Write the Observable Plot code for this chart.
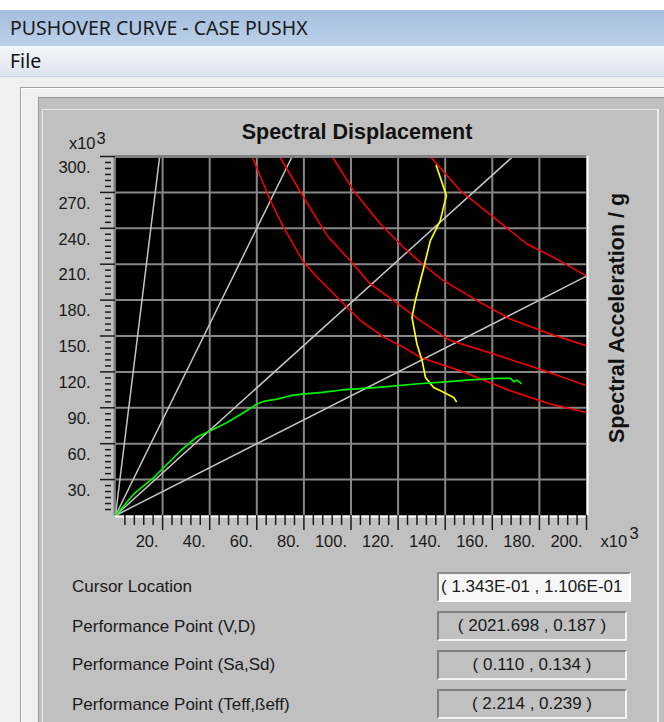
<!DOCTYPE html>
<html>
<head>
<meta charset="utf-8">
<script src="https://cdn.jsdelivr.net/npm/d3@7"></script>
<script src="https://cdn.jsdelivr.net/npm/@observablehq/plot@0.6"></script>
<style>
  html, body { margin: 0; padding: 0; }
  body { width: 664px; height: 722px; overflow: hidden; position: relative; background: #f0f0f0; font-family: "Liberation Sans", Arial, sans-serif; }
  #topwhite { position: absolute; left: 0; top: 0; width: 664px; height: 10px; background: #ffffff; }
  #titlebar { position: absolute; left: 0; top: 10px; width: 664px; height: 36px; background: linear-gradient(#a3bedc, #bcd1ea); color: #1a1a1a; font-family: "Noto Sans", "Open Sans", sans-serif; font-size: 19.5px; line-height: 36px; text-indent: 10px; }
  #menubar { position: absolute; left: 0; top: 46px; width: 664px; height: 30px; background: linear-gradient(#f4f7fb, #dbe3ef); border-bottom: 1px solid #c9d2df; color: #111; font-family: "Noto Sans", "Open Sans", sans-serif; font-size: 19.5px; line-height: 30px; text-indent: 10px; }
  #outer { position: absolute; left: 20px; top: 87px; width: 644px; height: 640px; border-top: 1px solid #a0a0a0; border-left: 1px solid #a0a0a0; box-shadow: inset 1px 1px 0 #ffffff; }
  #panel { position: absolute; left: 38px; top: 97px; width: 626px; height: 625px; background: #c0c0c0; border-top: 1px solid #9a9a9a; border-left: 1px solid #9a9a9a; }
  #inner { position: absolute; left: 42px; top: 109px; width: 614px; height: 613px; background: #c0c0c0; border-top: 1px solid #e8e8e8; border-left: 1px solid #e8e8e8; border-right: 2px solid #ececec; }
  #chart { position: absolute; left: 40px; top: 110px; }
  #chart svg { overflow: visible; }
  .lbl { position: absolute; left: 72px; font-size: 17px; color: #1a1a1a; height: 30px; line-height: 30px; white-space: nowrap; }
  .box { position: absolute; left: 437px; width: 186px; height: 26px; font-size: 17px; color: #1a1a1a; line-height: 26px; white-space: nowrap; overflow: hidden; border-top: 2px solid #808080; border-left: 2px solid #808080; border-bottom: 2px solid #f4f4f4; border-right: 2px solid #f4f4f4; background: #c0c0c0; text-align: center; }
  .box.cursor { background: #f6f6f6; text-align: left; padding-left: 2px; width: 188px; border-top: 2px solid #8a8a8a; border-left: 2px solid #8a8a8a; border-bottom: 2px solid #ffffff; border-right: 2px solid #ffffff; }
</style>
</head>
<body>
<div id="topwhite"></div>
<div id="titlebar">PUSHOVER CURVE - CASE PUSHX</div>
<div id="menubar">File</div>
<div id="outer"></div>
<div id="panel"></div>
<div id="inner"></div>
<div id="chart"></div>

<div class="lbl" style="top:572px">Cursor Location</div>
<div class="lbl" style="top:612px">Performance Point (V,D)</div>
<div class="lbl" style="top:650px">Performance Point (Sa,Sd)</div>
<div class="lbl" style="top:690px">Performance Point (Teff,ßeff)</div>
<div class="box cursor" style="top:572px">( 1.343E-01 , 1.106E-01</div>
<div class="box" style="top:611px">( 2021.698 , 0.187 )</div>
<div class="box" style="top:650px">( 0.110 , 0.134 )</div>
<div class="box" style="top:689px">( 2.214 , 0.239 )</div>

<script>
// ---- tick labels ----
const xMajor = [20, 40, 60, 80, 100, 120, 140, 160, 180, 200];
const yMajor = [30, 60, 90, 120, 150, 180, 210, 240, 270, 300];
const xMinor = d3.range(0, 200, 4).filter(d => d % 20 !== 0);
const yMinor = d3.range(0, 300, 5).filter(d => d % 30 !== 0);

// ---- constant-period lines (end point of each ray from origin) ----
const periodEndSd = [18.75, 75, 168.75, 200];
const periodEndSa = [300, 300, 300, 200];

// ---- demand spectra (red) [Sd, Sa] ----
const demand1 = [[58.0,300],[65.8,263.0],[71.4,240.8],[79.9,211.5],[87.0,196.3],[95.5,179.6],[104.0,162.9],[113.9,149.0],[122.4,140.5],[129.5,132.1],[146.4,121.0],[167.6,104.3],[184.6,93.2],[200,86.0]];
const demand2 = [[69.7,300],[79.9,265.8],[89.9,233.8],[99.7,212.9],[108.2,193.5],[118.1,179.6],[129.5,162.9],[142.2,146.2],[160.6,135.0],[181.8,121.2],[200,108.5]];
const demand3 = [[92.0,300],[101.1,271.4],[112.5,243.6],[122.4,224.0],[129.5,211.5],[139.3,196.2],[153.5,179.5],[167.6,164.2],[184.6,151.7],[200,141.8]];
const demand4 = [[133.7,300],[146.4,271.4],[160.6,249.1],[174.7,226.9],[186.0,215.7],[200,200.3]];

// ---- capacity curve (green) ----
const capacitySd = [0, 7.8, 16.3, 19.1, 27.6, 31.8, 34.7, 40.3, 47.4, 54.5, 60.1, 62.9, 68.6, 74.3, 79.2, 87.7, 96.2, 111.8, 127.3, 141.5, 149.3, 162.0, 167.7, 169.1, 170.5, 172.2];
const capacitySa = [0, 18.0, 31.8, 37.4, 54.1, 61.1, 65.8, 70.8, 77.8, 86.1, 93.2, 95.3, 97.3, 100.1, 101.5, 102.9, 104.9, 107.0, 109.9, 111.8, 113.2, 114.7, 114.6, 111.8, 113.2, 110.4];

// ---- demand locus (yellow) ----
const locusSd = [136.2, 140.5, 137.9, 133.7, 130.9, 127.3, 125.9, 128.0, 130.2, 131.6, 135.1, 139.3, 143.6, 144.7];
const locusSa = [292.4, 267.3, 246.4, 229.7, 207.3, 179.5, 165.6, 143.3, 129.4, 115.4, 107.0, 102.9, 98.7, 95.3];

// build tables
const rays = periodEndSd.flatMap((sd, i) => [{sd: 0, sa: 0, k: i}, {sd, sa: periodEndSa[i], k: i}]);
const demand = [demand1, demand2, demand3, demand4].flatMap((c, k) => c.map(([sd, sa]) => ({sd, sa, k})));
const capacity = capacitySd.map((sd, i) => ({sd, sa: capacitySa[i]}));
const locus = locusSd.map((sd, i) => ({sd, sa: locusSa[i]}));

const ink = "#1a1a1a";
const chart = Plot.plot({
  width: 624,
  height: 450,
  marginLeft: 75,
  marginRight: 78,
  marginTop: 46,
  marginBottom: 45,
  x: {domain: [0, 200]},
  y: {domain: [0, 300]},
  style: {background: "transparent", fontFamily: "'Liberation Sans', Arial, sans-serif", color: ink, overflow: "visible"},
  marks: [
    Plot.frame({fill: "#000000", stroke: null}),
    Plot.ruleX(xMajor.filter(d => d < 200), {stroke: "#878787", strokeWidth: 2}),
    Plot.ruleY(yMajor.filter(d => d < 300), {stroke: "#878787", strokeWidth: 2}),
    Plot.line(rays, {x: "sd", y: "sa", z: "k", stroke: "#c4c4c4", strokeWidth: 1.5}),
    Plot.line(demand, {x: "sd", y: "sa", z: "k", stroke: "#ff0000", strokeWidth: 1.5}),
    Plot.line(locus, {x: "sd", y: "sa", stroke: "#ffff00", strokeWidth: 1.7}),
    Plot.line(capacity, {x: "sd", y: "sa", stroke: "#00f500", strokeWidth: 1.7}),
    // sunken border
    Plot.ruleY([300], {stroke: "#808080", strokeWidth: 3}),
    Plot.ruleX([0], {stroke: "#808080", strokeWidth: 2, dx: -1}),
    Plot.ruleY([0], {stroke: "#ffffff", strokeWidth: 2, dy: 1}),
    Plot.ruleX([200], {stroke: "#ffffff", strokeWidth: 2, dx: 1}),
    // y axis
    Plot.axisY({ticks: yMajor, tickSize: 15, fill: "none", stroke: ink, strokeWidth: 1.5, label: null}),
    Plot.axisY({ticks: yMinor, tickSize: 6, dx: -4, fill: "none", stroke: ink, strokeWidth: 1.5, label: null}),
    Plot.axisY({ticks: yMajor, tickSize: 0, tickPadding: 25, dy: 11, tickFormat: d => d + ".", fontSize: 16.5, fill: ink, label: null}),
    // x axis
    Plot.axisX({ticks: xMajor, tickSize: 15, fill: "none", stroke: ink, strokeWidth: 1.5, label: null}),
    Plot.axisX({ticks: xMinor, tickSize: 10, fill: "none", stroke: ink, strokeWidth: 1.5, label: null}),
    Plot.axisX({ticks: xMajor, tickSize: 0, tickPadding: 20, textAnchor: "end", dx: -4, tickFormat: d => d + ".", fontSize: 16.5, fill: ink, label: null}),
    // titles
    Plot.text(["Spectral Displacement"], {frameAnchor: "top", textAnchor: "middle", lineAnchor: "middle", dx: 6, dy: -24, fontSize: 21.5, fontWeight: "bold", fill: "#111"}),
    Plot.text(["Spectral Acceleration / g"], {frameAnchor: "right", textAnchor: "middle", lineAnchor: "middle", rotate: -90, dx: 31, dy: -18, fontSize: 21.5, fontWeight: "bold", fill: "#111"}),
    Plot.text(["x10"], {frameAnchor: "top-left", textAnchor: "end", lineAnchor: "middle", dx: -20, dy: -13, fontSize: 16.5, fill: ink}),
    Plot.text(["3"], {frameAnchor: "top-left", textAnchor: "start", lineAnchor: "middle", dx: -19, dy: -18, fontSize: 16.5, fill: ink}),
    Plot.text(["x10"], {frameAnchor: "bottom-right", textAnchor: "start", lineAnchor: "middle", dx: 14, dy: 26, fontSize: 16.5, fill: ink}),
    Plot.text(["3"], {frameAnchor: "bottom-right", textAnchor: "start", lineAnchor: "middle", dx: 43, dy: 18, fontSize: 16.5, fill: ink})
  ]
});
document.getElementById("chart").appendChild(chart);
</script>
</body>
</html>
